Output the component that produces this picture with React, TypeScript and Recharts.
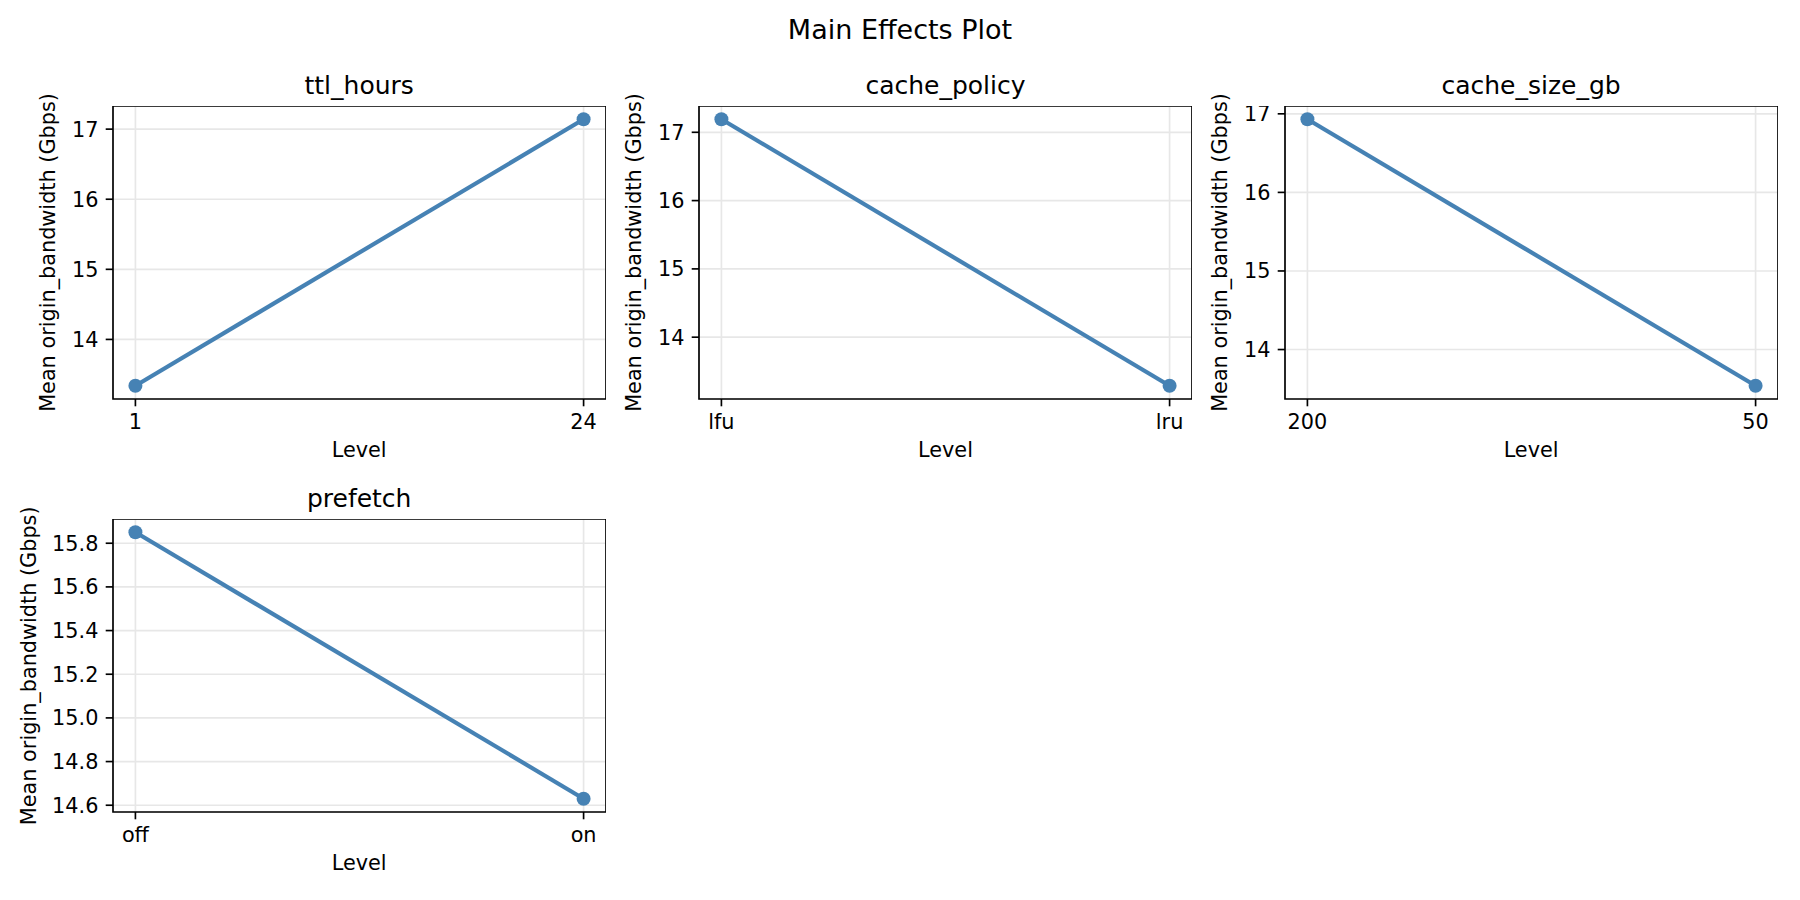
import React from 'react';
import {
  LineChart,
  Line,
  XAxis,
  YAxis,
  CartesianGrid,
  ReferenceArea
} from 'recharts';

// factor names, levels and the mean response at each level
const FACTORS = ['ttl_hours', 'cache_policy', 'cache_size_gb', 'prefetch'];
const TTL_LEVELS = ['1', '24'];
const TTL_MEANS = [13.34, 17.14];
const POLICY_LEVELS = ['lfu', 'lru'];
const POLICY_MEANS = [17.19, 13.29];
const SIZE_LEVELS = ['200', '50'];
const SIZE_MEANS = [16.93, 13.54];
const PREFETCH_LEVELS = ['off', 'on'];
const PREFETCH_MEANS = [15.85, 14.63];

// y tick labels
const TICKS_WHOLE = [14, 15, 16, 17];
const TICKS_PREFETCH = [14.6, 14.8, 15.0, 15.2, 15.4, 15.6, 15.8];

const SUPTITLE = 'Main Effects Plot';
const X_LABEL = 'Level';
const Y_LABEL = 'Mean origin_bandwidth (Gbps)';

const STEEL = '#4682b4';
const FONT = '"DejaVu Sans", "Liberation Sans", sans-serif';
const PLOT_W = 493;
const PLOT_H = 293;
const AXIS_W = 70;
const AXIS_H = 60;
const LW = 1.67; // 0.8pt at 150dpi

// plot-area boxes (layout only)
const PANELS = [
  { title: FACTORS[0], levels: TTL_LEVELS, means: TTL_MEANS, ticks: TICKS_WHOLE, decimals: 0, left: 112.7, top: 106, labelGap: 58 },
  { title: FACTORS[1], levels: POLICY_LEVELS, means: POLICY_MEANS, ticks: TICKS_WHOLE, decimals: 0, left: 699, top: 106, labelGap: 58 },
  { title: FACTORS[2], levels: SIZE_LEVELS, means: SIZE_MEANS, ticks: TICKS_WHOLE, decimals: 0, left: 1284.6, top: 106, labelGap: 58 },
  { title: FACTORS[3], levels: PREFETCH_LEVELS, means: PREFETCH_MEANS, ticks: TICKS_PREFETCH, decimals: 1, left: 112.7, top: 519.3, labelGap: 77 }
];

const Panel = ({ p }: any) => {
  const data = p.means.map((y: number, i: number) => ({ x: i, y }));
  const lo = Math.min(...p.means);
  const hi = Math.max(...p.means);
  const pad = (hi - lo) * 0.05; // matplotlib-style autoscale margin
  const yDomain = [lo - pad, hi + pad];
  const tickStyle = { fill: '#000', fontSize: 20.8, fontFamily: FONT };

  return (
    <div style={{ position: 'absolute', left: p.left - AXIS_W, top: p.top }}>
      <LineChart
        width={PLOT_W + AXIS_W}
        height={PLOT_H + AXIS_H}
        data={data}
        margin={{ top: 0, right: 0, bottom: 0, left: 0 }}
      >
        <CartesianGrid stroke="#e7e7e7" strokeWidth={LW} />
        <XAxis
          type="number"
          dataKey="x"
          domain={[-0.05, 1.05]}
          ticks={[0, 1]}
          interval={0}
          allowDataOverflow
          tickFormatter={(v: number) => p.levels[v]}
          height={AXIS_H}
          axisLine={false}
          tickLine={{ stroke: '#000', strokeWidth: LW }}
          tickSize={7.3}
          tickMargin={7.5}
          tick={tickStyle}
        />
        <YAxis
          type="number"
          domain={yDomain}
          ticks={p.ticks}
          interval={0}
          allowDataOverflow
          tickFormatter={(v: number) => v.toFixed(p.decimals)}
          width={AXIS_W}
          axisLine={false}
          tickLine={{ stroke: '#000', strokeWidth: LW }}
          tickSize={7.3}
          tickMargin={7.3}
          tick={tickStyle}
        />
        <Line
          type="linear"
          dataKey="y"
          stroke={STEEL}
          strokeWidth={4.17}
          dot={{ r: 7, fill: STEEL, stroke: STEEL, strokeWidth: 0 }}
          activeDot={false}
          isAnimationActive={false}
        />
        <ReferenceArea
          x1={-0.05}
          x2={1.05}
          y1={yDomain[0]}
          y2={yDomain[1]}
          fill="none"
          stroke="#000"
          strokeWidth={LW}
        />
      </LineChart>
    </div>
  );
};

const App = () => {
  return (
    <div
      style={{
        position: 'absolute',
        left: 0,
        top: 0,
        width: 1800,
        height: 900,
        background: '#fff',
        fontFamily: FONT
      }}
    >
      {PANELS.map(p => (
        <Panel key={p.title} p={p} />
      ))}
      <svg
        width={1800}
        height={900}
        style={{ position: 'absolute', left: 0, top: 0, pointerEvents: 'none' }}
        fontFamily={FONT}
      >
        <text x={900} y={38.5} textAnchor="middle" fontSize={27} fill="#000">
          {SUPTITLE}
        </text>
        {PANELS.map(p => (
          <g key={p.title}>
            <text x={p.left + PLOT_W / 2} y={p.top - 12.5} textAnchor="middle" fontSize={25} fill="#000">
              {p.title}
            </text>
            <text x={p.left + PLOT_W / 2} y={p.top + PLOT_H + 57.8} textAnchor="middle" fontSize={20.8} fill="#000">
              {X_LABEL}
            </text>
            <text
              transform={`translate(${p.left - p.labelGap}, ${p.top + PLOT_H / 2}) rotate(-90)`}
              textAnchor="middle"
              fontSize={20.8}
              fill="#000"
            >
              {Y_LABEL}
            </text>
          </g>
        ))}
      </svg>
    </div>
  );
};

export default App;
